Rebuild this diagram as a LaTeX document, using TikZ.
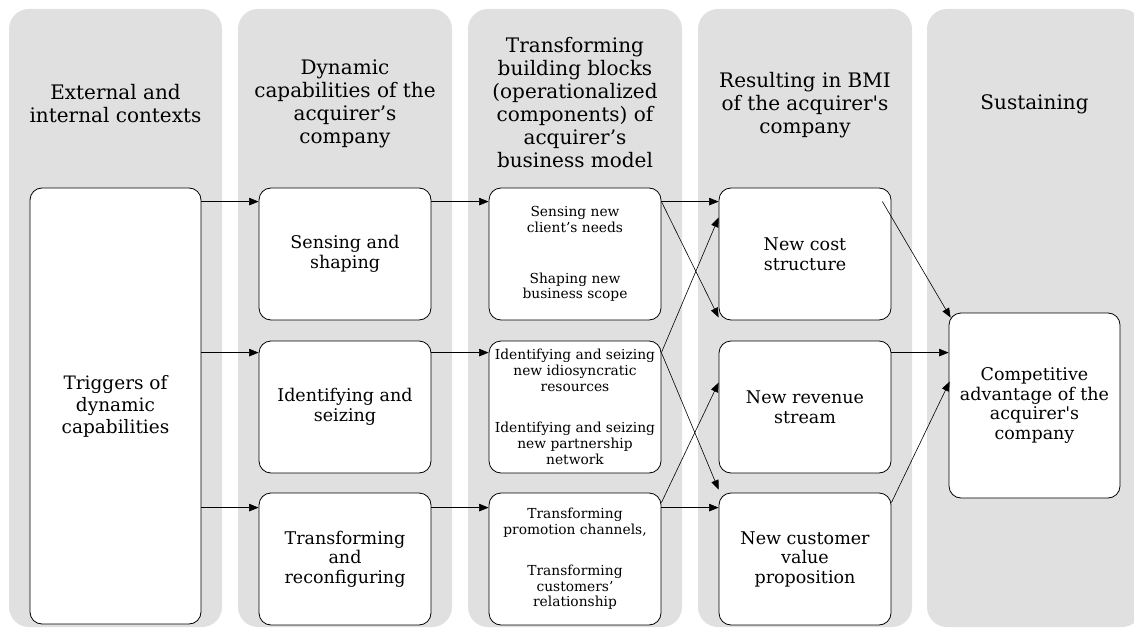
\documentclass[tikz,border=0pt]{standalone}
\usepackage{fontspec}
% family without TeX ligature mapping, so ' stays straight and ’ stays curly
\newfontfamily\diagfont{DejaVu Serif}
\usetikzlibrary{arrows.meta,calc}
\definecolor{panelgray}{HTML}{E0E0E0}
\begin{document}
\begin{tikzpicture}[x=1pt,y=-1pt,
  panel/.style={fill=panelgray, draw=none, rounded corners=20pt},
  header/.style={align=center, inner sep=0pt, font=\diagfont\fontsize{20}{23}\selectfont},
  box/.style={draw=black, fill=white, rounded corners=12pt, line width=0.8pt,
    minimum width=172pt, minimum height=132pt, align=center, inner sep=0pt,
    font=\diagfont\fontsize{17.5}{19.5}\selectfont},
  smallbox/.style={box, font=\diagfont\fontsize{13.8}{15.7}\selectfont},
  link/.style={-{Triangle[length=9.5pt,width=7.5pt]}, line width=0.6pt}
]
\useasboundingbox (0,0) rectangle (1134,628);

% column panels
\fill[panel] (9,9) rectangle (222,627);
\fill[panel] (238,9) rectangle (452,627);
\fill[panel] (468,9) rectangle (682,627);
\fill[panel] (698,9) rectangle (912,627);
\fill[panel] (927,9) rectangle (1142,627);

% column headings
\node[header] (h1) at (115.5,104) {External and\\internal contexts};
\node[header] (h2) at (345,104) {Dynamic\\capabilities of the\\acquirer’s\\company};
\node[header] (h3) at (575,103) {Transforming\\building blocks\\(operationalized\\components) of\\acquirer’s\\business model};
\node[header] (h4) at (805,105) {Resulting in BMI\\of the acquirer's\\company};
\node[header] (h5) at (1034.5,104) {Sustaining};

% boxes
\node[box, minimum width=171pt, minimum height=436pt,
  font=\diagfont\fontsize{18.5}{22}\selectfont] (trig) at (115.5,406)
  {Triggers of\\dynamic\\capabilities};

\node[box] (c2a) at (345,254) {Sensing and\\shaping};
\node[box] (c2b) at (345,407) {Identifying and\\seizing};
\node[box] (c2c) at (345,559) {Transforming\\and\\reconfiguring};

\node[smallbox] (c3a) at (575,254)
  {Sensing new\\client’s needs\\[35pt]Shaping new\\business scope};
\node[smallbox] (c3b) at (575,407)
  {Identifying and seizing\\new idiosyncratic\\resources\\[26pt]Identifying and seizing\\new partnership\\network};
\node[smallbox] (c3c) at (575,559)
  {Transforming\\promotion channels,\\[25pt]Transforming\\customers’\\relationship};

\node[box] (c4a) at (805,254) {New cost\\structure};
\node[box] (c4b) at (805,407) {New revenue\\stream};
\node[box] (c4c) at (805,559) {New customer\\value\\proposition};

\node[box, minimum width=171pt, minimum height=185pt] (comp) at (1034.5,405.5)
  {Competitive\\advantage of the\\acquirer's\\company};

% arrow levels of the three rows
\coordinate (r1) at ($(c2a.north west)+(0,14)$);
\coordinate (r2) at ($(c2b.north west)+(0,12)$);
\coordinate (r3) at ($(c2c.north west)+(0,15)$);

% triggers to capabilities
\draw[link] (trig.east |- r1) -- (c2a.west |- r1);
\draw[link] (trig.east |- r2) -- (c2b.west |- r2);
\draw[link] (trig.east |- r3) -- (c2c.west |- r3);

% capabilities to building blocks
\draw[link] (c2a.east |- r1) -- (c3a.west |- r1);
\draw[link] (c2b.east |- r2) -- (c3b.west |- r2);
\draw[link] (c2c.east |- r3) -- (c3c.west |- r3);

% building blocks to BMI results
\draw[link] (c3a.east |- r1) -- (c4a.west |- r1);
\draw[link] (c3a.east |- r1) -- ($(c4a.south west)+(0,-3)$);
\draw[link] (c3b.east |- r2) -- ($(c4a.north west)+(0,30)$);
\draw[link] (c3b.east |- r2) -- ($(c4c.north west)+(0,-3)$);
\draw[link] ($(c3c.north east)+(0,10)$) -- ($(c4b.north west)+(0,42)$);
\draw[link] (c3c.east |- r3) -- (c4c.west |- r3);

% BMI results to competitive advantage
\draw[link] ($(c4a.north east)+(-9,14)$) -- ($(comp.north west)+(2,5)$);
\draw[link] (c4b.east |- r2) -- (comp.west |- r2);
\draw[link] ($(c4c.north east)+(0,10)$) -- ($(comp.north west)+(1,69)$);
\end{tikzpicture}
\end{document}
